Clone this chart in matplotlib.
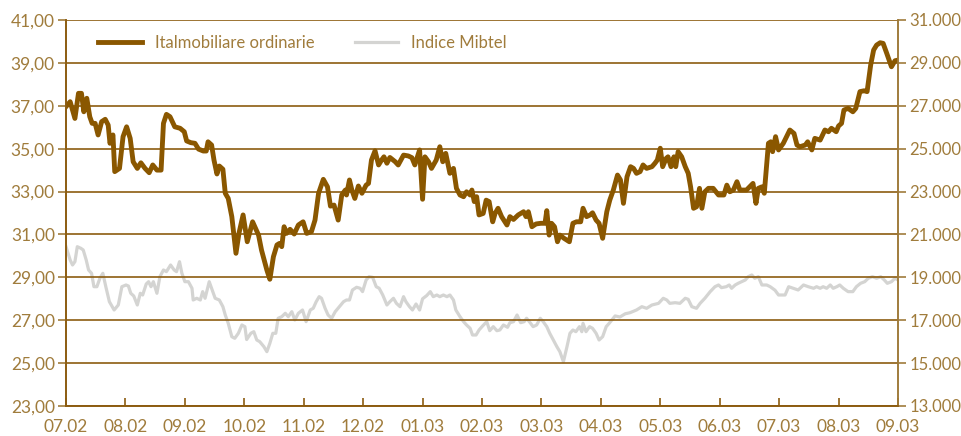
import matplotlib
matplotlib.use("Agg")
import matplotlib.pyplot as plt
from matplotlib.ticker import FuncFormatter, FixedLocator

# months since July 2002 (0 = 07.02, 14 = 09.03)
MONTH_LABELS = ["07.02", "08.02", "09.02", "10.02", "11.02", "12.02", "01.03",
                "02.03", "03.03", "04.03", "05.03", "06.03", "07.03", "08.03", "09.03"]

ital_t = [
    0.00, 0.07, 0.15, 0.21, 0.26, 0.30, 0.35, 0.40, 0.44, 0.49, 0.54, 0.60, 0.66, 0.71,
    0.74, 0.79, 0.82, 0.90, 0.96, 1.02, 1.08, 1.13, 1.20, 1.26, 1.33, 1.40, 1.46, 1.53,
    1.60, 1.64, 1.69, 1.75, 1.83, 1.92, 1.99, 2.03, 2.10, 2.17, 2.23, 2.31, 2.36, 2.39,
    2.45, 2.49, 2.54, 2.58, 2.64, 2.68, 2.73, 2.79, 2.86, 2.91, 2.98, 3.05, 3.14, 3.24,
    3.29, 3.38, 3.43, 3.49, 3.55, 3.59, 3.63, 3.67, 3.71, 3.77, 3.84, 3.91, 3.99, 4.05,
    4.13, 4.19, 4.25, 4.33, 4.40, 4.45, 4.51, 4.58, 4.64, 4.70, 4.72, 4.77, 4.81, 4.86,
    4.92, 4.98, 5.05, 5.09, 5.14, 5.20, 5.26, 5.31, 5.35, 5.40, 5.45, 5.54, 5.59, 5.68,
    5.76, 5.82, 5.87, 5.95, 6.00, 6.04, 6.10, 6.15, 6.23, 6.29, 6.34, 6.39, 6.46, 6.52,
    6.57, 6.63, 6.69, 6.74, 6.80, 6.83, 6.87, 6.91, 6.95, 7.02, 7.07, 7.12, 7.18, 7.22,
    7.27, 7.33, 7.42, 7.47, 7.53, 7.61, 7.70, 7.74, 7.78, 7.84, 7.91, 7.99, 8.06, 8.09,
    8.13, 8.17, 8.22, 8.27, 8.31, 8.38, 8.47, 8.53, 8.59, 8.66, 8.70, 8.76, 8.82, 8.86,
    8.92, 8.97, 9.03, 9.10, 9.15, 9.21, 9.28, 9.33, 9.38, 9.44, 9.50, 9.55, 9.60, 9.66,
    9.71, 9.77, 9.86, 9.91, 9.95, 10.00, 10.04, 10.10, 10.13, 10.18, 10.23, 10.26, 10.30,
    10.36, 10.42, 10.47, 10.51, 10.56, 10.61, 10.66, 10.70, 10.75, 10.81, 10.89, 10.98,
    11.07, 11.12, 11.17, 11.23, 11.29, 11.34, 11.45, 11.56, 11.61, 11.65, 11.71, 11.75,
    11.82, 11.86, 11.89, 11.94, 11.99, 12.07, 12.18, 12.25, 12.30, 12.35, 12.44, 12.48,
    12.55, 12.60, 12.69, 12.77, 12.83, 12.88, 12.96, 13.00, 13.05, 13.09, 13.16, 13.24,
    13.29, 13.36, 13.43, 13.48, 13.54, 13.59, 13.64, 13.70, 13.75, 13.81, 13.89, 13.95,
    14.00,
]
ital_price = [
    36.96, 37.19, 36.41, 37.58, 37.58, 36.72, 37.35, 36.49, 36.18, 36.18, 35.64, 36.26, 36.37, 36.10,
    35.25, 35.64, 33.93, 34.08, 35.56, 36.02, 35.48, 34.39, 34.08, 34.34, 34.08, 33.88, 34.24, 34.00,
    34.00, 36.18, 36.60, 36.49, 36.02, 35.95, 35.79, 35.36, 35.28, 35.25, 34.98, 34.89, 34.89, 35.32,
    35.17, 34.47, 33.82, 34.19, 34.04, 32.92, 32.68, 31.83, 30.12, 31.05, 31.91, 30.66, 31.59, 30.97,
    30.27, 29.34, 28.91, 29.96, 30.51, 30.58, 30.43, 31.36, 31.05, 31.24, 31.02, 31.44, 31.59, 31.05,
    31.13, 31.67, 32.92, 33.57, 33.22, 32.32, 32.37, 31.67, 32.84, 33.07, 32.84, 33.54, 33.07, 32.68,
    33.26, 32.92, 33.30, 33.38, 34.47, 34.90, 34.24, 34.47, 34.62, 34.32, 34.59, 34.39, 34.24, 34.70,
    34.66, 34.58, 34.24, 34.94, 32.64, 34.62, 34.39, 34.08, 34.47, 35.09, 34.39, 34.78, 33.85, 34.08,
    33.15, 32.84, 32.76, 32.99, 32.84, 33.07, 32.53, 32.76, 31.91, 31.98, 32.60, 32.53, 31.59, 31.98,
    32.22, 31.83, 31.44, 31.83, 31.70, 31.91, 32.06, 31.83, 32.06, 31.36, 31.49, 31.52, 31.52, 32.11,
    30.97, 31.52, 31.36, 30.66, 30.97, 30.82, 30.66, 31.52, 31.59, 31.59, 32.22, 31.83, 31.91, 32.01,
    31.67, 31.52, 30.82, 32.06, 32.60, 33.07, 33.77, 33.54, 32.45, 33.69, 34.16, 34.08, 33.85, 33.93,
    34.24, 34.08, 34.16, 34.32, 34.47, 35.02, 34.16, 34.55, 34.62, 34.16, 34.62, 34.16, 34.86,
    34.62, 34.16, 33.85, 33.22, 32.22, 32.29, 33.15, 32.22, 32.99, 33.15, 33.15, 32.84,
    32.84, 33.30, 32.99, 33.07, 33.46, 33.07, 33.07, 33.38, 32.45, 33.15, 33.22, 32.92,
    35.25, 35.32, 34.86, 35.56, 34.94, 35.25, 35.87, 35.71, 35.17, 35.09, 35.17, 35.32,
    34.94, 35.48, 35.40, 35.87, 35.79, 35.95, 35.79, 36.06, 36.18, 36.80, 36.88, 36.72,
    36.88, 37.66, 37.70, 37.66, 38.90, 39.60, 39.83, 39.94, 39.91, 39.45, 38.82, 39.10,
    39.13,
]

mibtel_t = [
    0.00, 0.07, 0.11, 0.15, 0.19, 0.25, 0.29, 0.34, 0.38, 0.43, 0.47, 0.52, 0.57, 0.62,
    0.67, 0.73, 0.81, 0.88, 0.94, 1.01, 1.05, 1.09, 1.14, 1.20, 1.25, 1.29, 1.35, 1.39,
    1.43, 1.47, 1.53, 1.58, 1.64, 1.69, 1.76, 1.82, 1.86, 1.91, 1.95, 2.00, 2.06, 2.12,
    2.14, 2.20, 2.26, 2.30, 2.34, 2.41, 2.45, 2.51, 2.58, 2.64, 2.68, 2.73, 2.79, 2.84,
    2.90, 2.96, 3.01, 3.04, 3.11, 3.16, 3.21, 3.26, 3.33, 3.38, 3.43, 3.48, 3.53, 3.57,
    3.63, 3.69, 3.74, 3.80, 3.85, 3.91, 3.98, 4.04, 4.11, 4.16, 4.21, 4.26, 4.30, 4.36,
    4.41, 4.47, 4.53, 4.60, 4.67, 4.72, 4.77, 4.82, 4.89, 4.95, 4.99, 5.05, 5.10, 5.16,
    5.22, 5.27, 5.33, 5.40, 5.45, 5.51, 5.56, 5.62, 5.68, 5.72, 5.78, 5.83, 5.89, 5.95,
    6.00, 6.07, 6.13, 6.18, 6.24, 6.29, 6.35, 6.41, 6.46, 6.52, 6.56, 6.63, 6.69, 6.74,
    6.80, 6.84, 6.90, 6.95, 7.01, 7.08, 7.13, 7.19, 7.25, 7.30, 7.36, 7.43, 7.47, 7.53,
    7.59, 7.65, 7.71, 7.75, 7.81, 7.86, 7.92, 7.98, 8.03, 8.09, 8.14, 8.20, 8.26, 8.31,
    8.37, 8.43, 8.48, 8.53, 8.58, 8.64, 8.68, 8.70, 8.75, 8.81, 8.86, 8.92, 8.97, 9.03,
    9.09, 9.14, 9.24, 9.32, 9.41, 9.49, 9.60, 9.69, 9.77, 9.86, 9.97, 10.05, 10.11, 10.16,
    10.25, 10.33, 10.42, 10.47, 10.53, 10.61, 10.67, 10.75, 10.84, 10.92, 10.98, 11.03,
    11.11, 11.16, 11.20, 11.26, 11.31, 11.37, 11.43, 11.48, 11.54, 11.59, 11.65, 11.71,
    11.79, 11.85, 11.93, 11.99, 12.04, 12.10, 12.16, 12.24, 12.32, 12.41, 12.49, 12.58,
    12.63, 12.69, 12.74, 12.80, 12.86, 12.91, 12.97, 13.02, 13.08, 13.16, 13.24, 13.30,
    13.37, 13.44, 13.50, 13.57, 13.64, 13.71, 13.77, 13.82, 13.89, 13.95, 14.00,
]
mibtel_value = [
    20429, 19809, 19576, 19730, 20429, 20354, 20275, 19809, 19343, 19188, 18563, 18563, 18956, 19188,
    18563, 17864, 17477, 17710, 18563, 18643, 18596, 18256, 18130, 17710, 18256, 18176, 18690, 18797,
    18563, 18797, 18256, 19030, 19343, 19265, 19576, 19343, 19265, 19730, 19188, 18797, 18797, 18489,
    17943, 18023, 17943, 18333, 18023, 18797, 18489, 18023, 17943, 17632, 17244, 16857, 16232, 16157,
    16390, 16778, 16700, 16100, 16390, 16465, 16078, 16000, 15766, 15533, 15924, 16390, 16390, 17090,
    17165, 17323, 17165, 17398, 17011, 17323, 17477, 16932, 17477, 17556, 17864, 18098, 18023, 17556,
    17244, 17090, 17398, 17632, 17864, 17943, 17943, 18410, 18536, 18489, 18333, 18876, 19030, 18999,
    18563, 18489, 18176, 17710, 17864, 18023, 17787, 17632, 18098, 17864, 17632, 17477, 17757, 17477,
    18000, 18150, 18333, 18098, 18176, 18098, 18176, 18098, 18176, 17943, 17477, 17165, 16932, 16778,
    16623, 16311, 16311, 16544, 16731, 16932, 16512, 16700, 16512, 16544, 16778, 16671, 16885, 16932,
    17244, 16885, 16932, 17090, 16885, 16700, 16778, 17090, 16932, 16700, 16390, 16078, 15766, 15533,
    15067, 15766, 16390, 16544, 16465, 16700, 16465, 16857, 16465, 16700, 16623, 16390, 16078, 16232,
    16700, 16857, 17200, 17150, 17300, 17350, 17477, 17632, 17556, 17710, 17787, 18023, 17943, 17787,
    17818, 17787, 18023, 17975, 17632, 17556, 17787, 18023, 18333, 18563, 18643, 18519,
    18563, 18643, 18489, 18643, 18721, 18797, 18876, 19030, 19109, 18956, 19030, 18643,
    18643, 18563, 18400, 18176, 18176, 18176, 18563, 18489, 18410, 18643, 18563, 18489,
    18563, 18489, 18563, 18489, 18643, 18489, 18563, 18643, 18489, 18333, 18333, 18563,
    18721, 18797, 18956, 19030, 18956, 19030, 18876, 18721, 18797, 18956, 18876,
]

BROWN = "#8a5700"
GRID = "#8c5c10"
TEXT = "#a07c3c"
GREY = "#d4d4d2"

plt.rcParams["font.family"] = ["Lato", "DejaVu Sans"]

fig = plt.figure(figsize=(9.61, 4.36), dpi=100)
ax = fig.add_axes([66 / 961, 1 - 406 / 436, (898 - 66) / 961, (406 - 20) / 436])
ax2 = ax.twinx()

ax2.plot(mibtel_t, mibtel_value, color=GREY, lw=2.3, solid_joinstyle="round",
         label="Indice Mibtel")
ax.plot(ital_t, ital_price, color=BROWN, lw=3.5, solid_joinstyle="round",
        label="Italmobiliare ordinarie")

# brown series above the grey one
ax.set_zorder(ax2.get_zorder() + 1)
ax.patch.set_visible(False)

ax.set_xlim(0, 14)
ax.set_ylim(23, 41)
ax2.set_ylim(13000, 31000)

ax.set_yticks(range(23, 42, 2))
ax2.set_yticks(range(13000, 31001, 2000))
ax.yaxis.set_major_formatter(FuncFormatter(lambda v, p: f"{v:.2f}".replace(".", ",")))
ax2.yaxis.set_major_formatter(FuncFormatter(lambda v, p: f"{int(v):,}".replace(",", ".")))

ax.xaxis.set_major_locator(FixedLocator(range(15)))
ax.set_xticklabels(MONTH_LABELS)

ax.grid(axis="y", color=GRID, lw=1.2)
ax.set_axisbelow(True)

for a in (ax, ax2):
    a.spines["top"].set_visible(False)
    a.spines["left"].set_color(GRID)
    a.spines["right"].set_color(TEXT)
    a.spines["bottom"].set_color(GRID)
    for side in ("left", "right", "bottom"):
        a.spines[side].set_linewidth(1.2)

ax.tick_params(axis="x", direction="in", length=6, width=1.2, color=GRID,
               labelcolor=TEXT, labelsize=12.5, pad=9)
ax.tick_params(axis="y", direction="out", length=6, width=1.2, color=TEXT,
               labelcolor=TEXT, labelsize=12.5, pad=2)
ax2.tick_params(axis="y", direction="out", length=6, width=1.2, color=TEXT,
                labelcolor=TEXT, labelsize=12, pad=2)

h1, l1 = ax.get_legend_handles_labels()
h2, l2 = ax2.get_legend_handles_labels()
leg = ax.legend(h1 + h2, l1 + l2, loc="upper left", bbox_to_anchor=(0.021, 1.0),
                ncol=2, frameon=False, fontsize=12, handlelength=2.6,
                handletextpad=0.8, columnspacing=2.4)
for txt in leg.get_texts():
    txt.set_color(TEXT)

fig.savefig("out.png", dpi=100)
